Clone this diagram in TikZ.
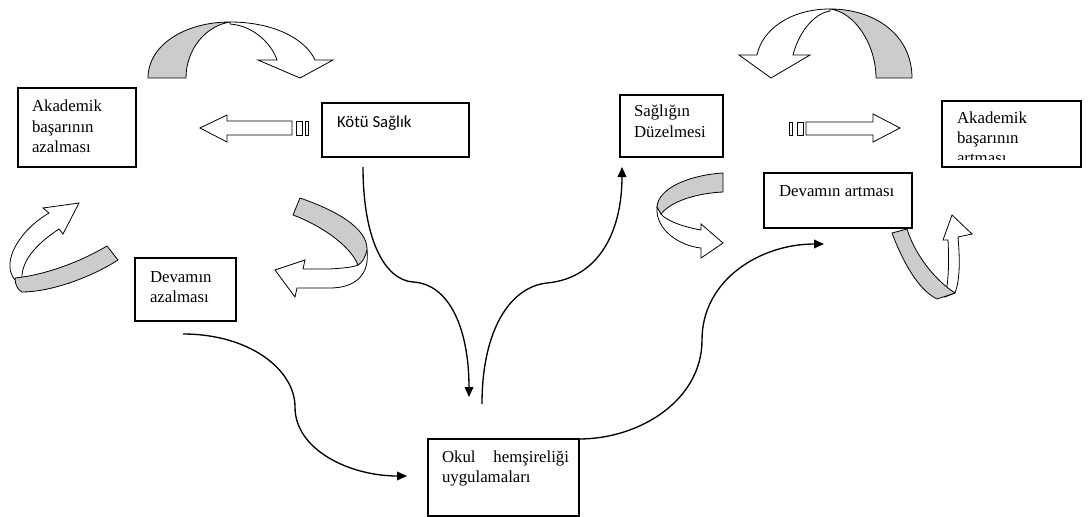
\documentclass[tikz,border=0pt]{standalone}
\usepackage{fontspec}
\setmainfont{Liberation Serif}
\newfontfamily\calibrifont{Carlito}
\usetikzlibrary{arrows.meta}
\definecolor{ribbongray}{RGB}{204,204,204}
\newcommand{\boxtxt}[5]{\parbox[t][#2][t]{#1}{\setlength{\leftskip}{#3}\setlength{\rightskip}{0pt plus 1fil}\setlength{\parindent}{0pt}\rule{0pt}{#4}#5}}
\tikzset{
  box/.style={draw, line width=0.95pt, anchor=north west, inner sep=0pt, outer sep=0pt, font=\fontsize{12.6pt}{15pt}\selectfont},
  conn/.style={line width=1pt, -{Triangle[length=7.5pt,width=6.5pt]}},
  blockarrow/.style={draw, fill=white, line width=0.6pt, line join=miter},
  ribbonback/.style={draw, fill=ribbongray, line width=0.6pt, line join=round},
  ribbonfront/.style={draw, fill=white, line width=0.6pt, line join=miter},
}
\begin{document}
\begin{tikzpicture}[x=0.75pt,y=-0.75pt]
\useasboundingbox (0,0) rectangle (1088,517);

% ---------- boxes ----------
\node[box] (akaz) at (18,88) {\boxtxt{88.5pt}{59.25pt}{10.5pt}{18pt}{Akademik\\başarının\\azalması}};
\node[box, font=\calibrifont\fontsize{12.6pt}{15pt}\selectfont] (kotu) at (322,103) {\boxtxt{110.25pt}{40.5pt}{11.25pt}{18pt}{Kötü Sağlık}};
\node[box] (devaz) at (135,258) {\boxtxt{75.75pt}{47.25pt}{11.25pt}{18pt}{Devamın\\azalması}};
\node[box] (saglik) at (620,95) {\boxtxt{77.25pt}{46.5pt}{10.5pt}{16.5pt}{Sağlığın\\Düzelmesi}};
\node[box, minimum width=104.25pt, minimum height=49.5pt] (akart) at (942,101) {};
\begin{scope}
  \clip (942,101) rectangle (1081,159);
  \node[box, draw=none] (akarttxt) at (akart.north west) {\boxtxt{104.25pt}{49.5pt}{11.25pt}{16.5pt}{Akademik\\başarının\\artması}};
\end{scope}
\node[box] (devart) at (764,173) {\boxtxt{111pt}{41.25pt}{11.25pt}{17.25pt}{Devamın artması}};
\node[box] (okul) at (428,439) {\boxtxt{113.25pt}{57.75pt}{10.5pt}{17.25pt}{\setlength{\rightskip}{7.5pt}Okul\hfill hemşireliği\\uygulamaları}};

% ---------- curved connectors ----------
\draw[conn] ([shift={(41,10)}]kotu.south west) .. controls (363,240) and (385,280) .. (413,282)
  .. controls (450,284) and (469,330) .. ([shift={(41,-42)}]okul.north west);
\draw[conn] ([shift={(54,-35)}]okul.north west) .. controls (482,330) and (510,287) .. (547,283)
  .. controls (600,278) and (622,230) .. ([shift={(2,10)}]saglik.south west);
\draw[conn] ([shift={(48,13)}]devaz.south west) .. controls (250,334) and (295,370) .. (295,407)
  .. controls (295,450) and (350,476) .. ([shift={(-21,37)}]okul.north west);
\draw[conn] (okul.north east) .. controls (640,439) and (702,400) .. (702,340)
  .. controls (702,280) and (760,244) .. ([shift={(60,16)}]devart.south west);

% ---------- striped block arrows ----------
\path[blockarrow] (200,128) -- (227,115) -- (227,121) -- (292,121) -- (292,135) -- (227,135) -- (227,142) -- cycle;
\path[blockarrow] (296,121) rectangle (302,135);
\path[blockarrow] (305,121) rectangle (308,135);

\path[blockarrow] (900,128) -- (873,114) -- (873,122) -- (806,122) -- (806,135) -- (873,135) -- (873,142) -- cycle;
\path[blockarrow] (797,122) rectangle (803,135);
\path[blockarrow] (789,122) rectangle (792,135);

% ---------- ribbon arrows ----------
% top left arch
\path[ribbonback] (148,78) .. controls (148,45) and (185,22) .. (230,22)
  .. controls (205,26) and (186,50) .. (186,78) -- cycle;
\path[ribbonfront] (230,22) .. controls (272,22) and (305,38) .. (315,60) -- (333,60) -- (300,78) -- (258,60) -- (277,60)
  .. controls (272,45) and (255,26) .. (230,24) -- cycle;

% top right arch
\path[ribbonback] (912,78) .. controls (912,35) and (875,9) .. (830,9)
  .. controls (855,12) and (876,45) .. (876,78) -- cycle;
\path[ribbonfront] (830,9) .. controls (790,9) and (762,30) .. (757,55) -- (739,55) -- (771,78) -- (810,55) -- (793,55)
  .. controls (798,35) and (812,14) .. (830,11) -- cycle;

% left ribbon (arrow up-right)
\path[ribbonfront] (15,280) .. controls (0,262) and (20,230) .. (49,213) -- (43,208) -- (79,203) -- (63,234) -- (59,229)
  .. controls (35,245) and (20,262) .. (22,282) -- cycle;
\path[ribbonback] (107,246) .. controls (80,262) and (45,275) .. (15,278)
  .. controls (15,285) and (18,290) .. (22,292) .. controls (50,292) and (90,278) .. (118,260) -- cycle;

% ribbon right of Devamın azalması (arrow left)
\path[ribbonfront] (367,250) .. controls (370,275) and (355,288) .. (330,288) -- (297,288) -- (295,297) -- (275,270) -- (305,260) -- (303,269) -- (330,269)
  .. controls (345,268) and (354,267) .. (358,265) -- cycle;
\path[ribbonback] (300,198) .. controls (335,210) and (368,228) .. (367,250)
  .. controls (365,258) and (362,263) .. (358,265) .. controls (350,245) and (320,225) .. (293,215) -- cycle;

% ribbon under Sağlığın Düzelmesi (arrow right)
\path[ribbonfront] (657,207) .. controls (655,230) and (680,246) .. (701,248) -- (701,258) -- (723,243) -- (701,224) -- (701,230)
  .. controls (683,227) and (665,220) .. (661,214) -- cycle;
\path[ribbonback] (723,173) .. controls (690,175) and (658,188) .. (657,207) -- (661,214)
  .. controls (672,200) and (700,193) .. (723,192) -- cycle;

% ribbon under Devamın artması (arrow up)
\path[ribbonfront] (945,297) .. controls (949,280) and (949,260) .. (948,240) -- (943,240) -- (952,215) -- (972,234) -- (958,237)
  .. controls (960,260) and (960,280) .. (955,293) -- cycle;
\path[ribbonback] (892,233) .. controls (902,260) and (918,290) .. (937,299) -- (955,293)
  .. controls (935,280) and (915,255) .. (907,229) -- cycle;
\end{tikzpicture}
\end{document}
